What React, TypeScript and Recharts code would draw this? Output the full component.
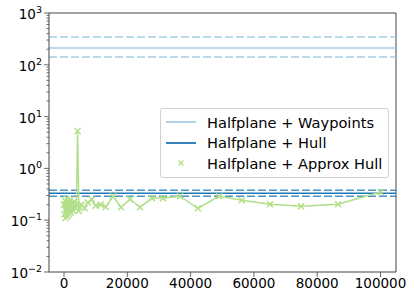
import {
  ComposedChart,
  Line,
  XAxis,
  YAxis,
  ReferenceLine,
} from "recharts";

// Halfplane + Approx Hull samples (x, value)
const approxX = [
  0, 150, 300, 450, 600, 750, 900, 1050, 1200, 1400, 1600, 1800, 2000, 2200,
  2400, 2700, 3000, 3300, 3600, 3900, 4300, 4700, 5500, 6500, 7500, 8800,
  10000, 11600, 13200, 15500, 18000, 20900, 24000, 27800, 31300, 36650, 42300,
  49000, 56200, 65100, 74900, 86600, 100000,
];
const approxY = [
  0.2, 0.13, 0.24, 0.11, 0.2, 0.15, 0.26, 0.12, 0.18, 0.22, 0.13, 0.19, 0.25,
  0.14, 0.17, 0.21, 0.15, 0.23, 0.17, 0.2, 5.2, 0.15, 0.2, 0.17, 0.22, 0.25,
  0.19, 0.2, 0.18, 0.29, 0.178, 0.255, 0.178, 0.267, 0.267, 0.29, 0.17, 0.29,
  0.243, 0.204, 0.186, 0.204, 0.35,
];

// constant levels: [mean, upper, lower]
const waypointsLevels = [210, 344, 141];
const hullLevels = [0.333, 0.38, 0.29];

const xTicks = [0, 20000, 40000, 60000, 80000, 100000];
const xDomain = [-4740, 104900];
const yExponents = [-2, -1, 0, 1, 2, 3];

const legendItems = [
  { label: "Halfplane + Waypoints", color: "#a6cee3", kind: "line" },
  { label: "Halfplane + Hull", color: "#1f78b4", kind: "line" },
  { label: "Halfplane + Approx Hull", color: "#b2df8a", kind: "marker" },
];

const data = approxX.map((x, i) => ({ x, y: approxY[i] }));

// log ticks: majors at each power of ten, minors at 2..9
const yTicks: number[] = [];
yExponents.forEach((e) => {
  if (e === 3) {
    yTicks.push(1000);
    return;
  }
  for (let k = 1; k <= 9; k++) yTicks.push(+(k * Math.pow(10, e)).toPrecision(3));
});

const FONT = "'DejaVu Sans', sans-serif";
const AXIS = "#444";

const YTick = (props: any) => {
  const { x, y, payload } = props;
  const v = payload.value;
  const e = Math.log10(v);
  const major = Math.abs(e - Math.round(e)) < 1e-6;
  if (!major) {
    return <line x1={x} x2={x - 2.5} y1={y} y2={y} stroke={AXIS} strokeWidth={0.8} />;
  }
  const ex = Math.round(e);
  const exTxt = ex < 0 ? "\u2212" + Math.abs(ex) : String(ex);
  return (
    <g>
      <line x1={x} x2={x - 5} y1={y} y2={y} stroke={AXIS} strokeWidth={0.8} />
      <text
        x={x - 7}
        y={y + 6}
        textAnchor="end"
        fontFamily={FONT}
        fontSize={13.5}
        fill="#000"
      >
        <tspan>10</tspan>
        <tspan dy={-6} fontSize={9.5}>
          {exTxt}
        </tspan>
      </text>
    </g>
  );
};

const XTick = (props: any) => {
  const { x, y, payload } = props;
  return (
    <g>
      <line x1={x} x2={x} y1={y} y2={y + 5} stroke={AXIS} strokeWidth={0.8} />
      <text
        x={x}
        y={y + 16}
        textAnchor="middle"
        fontFamily={FONT}
        fontSize={13.5}
        fill="#000"
      >
        {payload.value}
      </text>
    </g>
  );
};

const Cross = (props: any) => {
  const { cx, cy, index } = props;
  if (cx == null || cy == null) return <g key={index} />;
  const s = 3;
  return (
    <path
      key={index}
      d={`M${cx - s},${cy - s}L${cx + s},${cy + s}M${cx - s},${cy + s}L${cx + s},${cy - s}`}
      stroke="#b2df8a"
      strokeWidth={1.5}
      fill="none"
    />
  );
};

const LegendBox = () => (
  <div
    style={{
      position: "absolute",
      left: 160,
      top: 108,
      width: 227,
      height: 68,
      border: "1px solid #d0d0d0",
      borderRadius: 3,
      background: "rgba(255,255,255,0.8)",
      fontFamily: FONT,
      fontSize: 14.6,
      color: "#000",
    }}
  >
    {legendItems.map((it, i) => (
      <div
        key={it.label}
        style={{
          position: "absolute",
          left: 0,
          top: 3 + i * 20.5,
          height: 20,
          display: "flex",
          alignItems: "center",
          whiteSpace: "nowrap",
        }}
      >
        <svg width={46} height={20}>
          {it.kind === "line" ? (
            <line x1={5} x2={35} y1={10} y2={10} stroke={it.color} strokeWidth={1.8} />
          ) : (
            <path
              d="M17.5,7.5L22.5,12.5M17.5,12.5L22.5,7.5"
              stroke={it.color}
              strokeWidth={1.3}
            />
          )}
        </svg>
        <span>{it.label}</span>
      </div>
    ))}
  </div>
);

export default function App() {
  return (
    <div style={{ position: "absolute", left: 0, top: 0, width: 415, height: 300, background: "#fff" }}>
      <ComposedChart
        width={415}
        height={300}
        data={data}
        margin={{ top: 13, right: 19, left: 0, bottom: 0 }}
      >
        <XAxis
          type="number"
          dataKey="x"
          domain={xDomain}
          ticks={xTicks}
          interval={0}
          height={28}
          tickSize={0}
          tickMargin={0}
          tickLine={false}
          tick={<XTick />}
          axisLine={{ stroke: AXIS, strokeWidth: 1 }}
          allowDataOverflow
        />
        <YAxis
          type="number"
          scale="log"
          domain={[0.01, 1000]}
          ticks={yTicks}
          interval={0}
          width={49}
          tickSize={0}
          tickMargin={0}
          tickLine={false}
          tick={<YTick />}
          axisLine={{ stroke: AXIS, strokeWidth: 1 }}
          allowDataOverflow
        />
        <ReferenceLine y={1000} stroke={AXIS} strokeWidth={1} />
        <ReferenceLine x={xDomain[1]} stroke={AXIS} strokeWidth={1} />
        <ReferenceLine y={waypointsLevels[0]} stroke="#a6cee3" strokeWidth={1.5} />
        <ReferenceLine y={waypointsLevels[1]} stroke="#a6cee3" strokeWidth={1.5} strokeDasharray="8 3" />
        <ReferenceLine y={waypointsLevels[2]} stroke="#a6cee3" strokeWidth={1.5} strokeDasharray="8 3" />
        <ReferenceLine y={hullLevels[0]} stroke="#1f78b4" strokeWidth={1.5} />
        <ReferenceLine y={hullLevels[1]} stroke="#1f78b4" strokeOpacity={0.8} strokeWidth={1.5} strokeDasharray="8 3" />
        <ReferenceLine y={hullLevels[2]} stroke="#1f78b4" strokeOpacity={0.8} strokeWidth={1.5} strokeDasharray="8 3" />
        <Line
          type="linear"
          dataKey="y"
          stroke="#b2df8a"
          strokeWidth={1.5}
          dot={<Cross />}
          activeDot={false}
          isAnimationActive={false}
        />
      </ComposedChart>
      <LegendBox />
    </div>
  );
}
